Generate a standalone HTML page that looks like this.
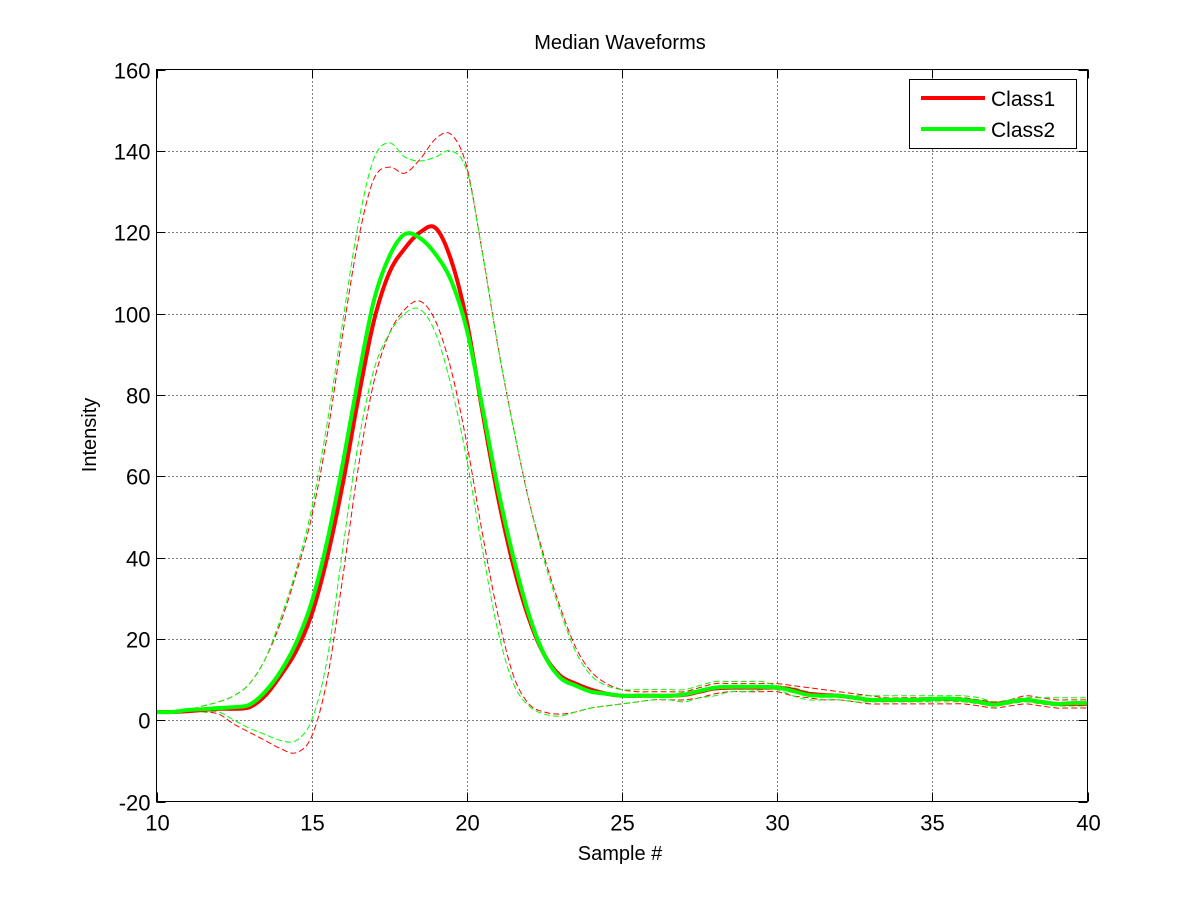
<!DOCTYPE html>
<html><head><meta charset="utf-8"><style>
body{margin:0;background:#fff;}
svg{display:block;font-family:"Liberation Sans",Arial,sans-serif;}
</style></head><body>
<svg id="chart" width="1200" height="900" viewBox="0 0 1200 900">
<rect width="1200" height="900" fill="#fff"/>
<g id="grid"></g>
<g id="series"></g>
<rect x="156.5" y="69.5" width="931" height="732" fill="none" stroke="#000" stroke-width="1"/>
<g id="ticks"></g>
<text x="620" y="49" text-anchor="middle" font-size="20">Median Waveforms</text>
<text x="620" y="860" text-anchor="middle" font-size="20">Sample #</text>
<text transform="translate(96,435) rotate(-90)" text-anchor="middle" font-size="20">Intensity</text>
<g>
<rect x="909.5" y="79.5" width="167" height="69" fill="#fff" stroke="#000"/>
<line x1="921" y1="98" x2="985" y2="98" stroke="#ff0000" stroke-width="4"/>
<text x="991" y="106" font-size="21">Class1</text>
<line x1="921" y1="129" x2="985" y2="129" stroke="#00ff00" stroke-width="4"/>
<text x="991" y="137" font-size="21">Class2</text>
</g>
</svg>
<script>
const xStart = 10, xStep = 0.5;
const xTicks = [10,15,20,25,30,35,40];
const yTicks = [-20,0,20,40,60,80,100,120,140,160];
const class1Median = [2,2,2.2,2.5,2.8,2.8,3.2,6,11,17,26,40,58,79,98,110,116,120,121,113,98,76,55,38,25,16,11,9,7.5,6.5,6,6,6,6,6.2,7,7.8,8,8,8,8,7.5,6.5,6.2,6,5.5,5,5,5,5,5.2,5.2,5,4.5,4,4.5,5,4.5,4,4,4];
const class1Upper = [2,2.2,2.5,3.5,4.5,6,9,15,24,36,50,70,95,118,133,136,134.5,138,143,144,136,115,92,72,54,40,28,18,12,9,7.5,7,7,7,7,8,9,9,9,9,9,8.5,8,7.5,7,6.5,6,5.5,5.5,5.5,5.5,5.5,5.5,5,4.5,5,6,5.5,5,5,5];
const class1Lower = [2,2,2,2,1.5,-1,-3,-5,-7,-8,-4,10,35,62,83,95,101,103,98,86,68,46,26,11,4,2,1.5,2,3,3.5,4,4.5,5,5,5,5.5,6.5,7,7,7,7,6,5.5,5,5,4.5,4,4,4,4,4,4,4,3.5,3,3.5,4,3.5,3,3,3];
const class2Median = [2,2,2.5,2.7,3,3.2,3.8,7,12,19,29,44,63,84,103,114,119.5,118.5,114.5,108,96,77,57,40,26,16,10.5,8.5,7,6.5,6,6,6,6,6.3,7.2,8,8.2,8.2,8.2,8,7.2,6.2,6,6,5.5,5,5,5,5,5.2,5.3,5,4.5,3.8,4.5,5,4.5,4,4.2,4.2];
const class2Upper = [2,2.2,2.5,3.5,4.5,6,9,15,25,37,52,73,98,122,138,142,138.5,137.5,138.5,140,135,115,92,72,54,39,27,17,11,8.5,7.5,7.5,7.5,7.5,7.5,8.5,9.5,9.5,9.5,9.5,8.5,8,7,6.5,6,6,6,6,6,6,6,6,6,5.5,4.5,5,5.5,5.5,5.5,5.5,5.5];
const class2Lower = [2,2,2,2,2,0,-2,-3.5,-5,-5,0,15,42,68,86,95,100,101,95,82,64,42,22,9,3.5,1.5,1,2,3,3.5,4,4.5,5,5,4.5,5.5,6,7,7,7.5,7.5,6,5,5,5,4.5,4.5,4.5,4.5,4.5,4.5,4.5,4.5,4,3.5,4,4.5,4,3.5,3.5,3.5];

const NS='http://www.w3.org/2000/svg';
const L=156.5,R=1087.5,T=69.5,B=801.5;
function sx(x){return L+(x-10)/(40-10)*(R-L);}
function sy(y){return B-(y+20)/(160+20)*(B-T);}
function mk(tag,attrs,parent){const e=document.createElementNS(NS,tag);for(const k in attrs)e.setAttribute(k,attrs[k]);parent.appendChild(e);return e;}
const grid=document.getElementById('grid'),ticks=document.getElementById('ticks'),series=document.getElementById('series');
xTicks.forEach(t=>{
  const x=Math.round(sx(t))+0.5;
  if(t>10&&t<40){const g=mk('line',{x1:x,y1:T,x2:x,y2:B,stroke:'#000','stroke-dasharray':'1,3','stroke-width':1},grid);
  
  }
  const a=mk('line',{x1:x,y1:B,x2:x,y2:B-9,stroke:'#000'},ticks);
  
  
  const b=mk('line',{x1:x,y1:T,x2:x,y2:T+9,stroke:'#000'},ticks);
  
  
  const tx=mk('text',{x:x,y:B+29,'text-anchor':'middle','font-size':22},ticks);
  tx.textContent=t;
  
  
});
yTicks.forEach(t=>{
  const y=Math.round(sy(t))+0.5;
  if(t>-20&&t<160){const g=mk('line',{x1:L,y1:y,x2:R,y2:y,stroke:'#000','stroke-dasharray':'1,3','stroke-width':1},grid);
  
  }
  const a=mk('line',{x1:L,y1:y,x2:L+9,y2:y,stroke:'#000'},ticks);
  
  
  const b=mk('line',{x1:R,y1:y,x2:R-9,y2:y,stroke:'#000'},ticks);
  
  
  const tx=mk('text',{x:L-6,y:y+8,'text-anchor':'end','font-size':22},ticks);
  tx.textContent=t;
  
  
});
function pathFor(vals){
  const p=vals.map((v,i)=>[sx(xStart+i*xStep),sy(v)]);
  let d='M'+p[0][0].toFixed(2)+','+p[0][1].toFixed(2);
  for(let i=0;i<p.length-1;i++){
    const p0=p[Math.max(0,i-1)],p1=p[i],p2=p[i+1],p3=p[Math.min(p.length-1,i+2)];
    const c1=[p1[0]+(p2[0]-p0[0])/6,p1[1]+(p2[1]-p0[1])/6];
    const c2=[p2[0]-(p3[0]-p1[0])/6,p2[1]-(p3[1]-p1[1])/6];
    d+='C'+c1[0].toFixed(2)+','+c1[1].toFixed(2)+' '+c2[0].toFixed(2)+','+c2[1].toFixed(2)+' '+p2[0].toFixed(2)+','+p2[1].toFixed(2);
  }
  return d;
}
function draw(vals,color,w,dash,name){
  const a={d:pathFor(vals),fill:'none',stroke:color,'stroke-width':w,'stroke-linejoin':'round'};
  if(dash)a['stroke-dasharray']=dash;
  const e=mk('path',a,series);
  
  
}
draw(class1Upper,'#ff0000',1,'6,3','class1-upper-band');
draw(class1Lower,'#ff0000',1,'6,3','class1-lower-band');
draw(class2Upper,'#00ff00',1,'6,3','class2-upper-band');
draw(class2Lower,'#00ff00',1,'6,3','class2-lower-band');
draw(class1Median,'#ff0000',4,null,'class1-median-line');
draw(class2Median,'#00ff00',4,null,'class2-median-line');
</script>
</body></html>
